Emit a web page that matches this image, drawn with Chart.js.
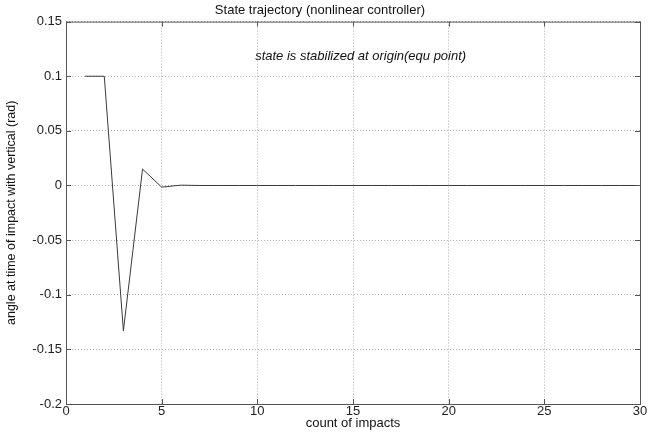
<!DOCTYPE html>
<html>
<head>
<meta charset="utf-8">
<script src="https://cdn.jsdelivr.net/npm/chart.js@4"></script>
<style>
  html, body { margin: 0; padding: 0; background: #fff; }
  #wrap { width: 662px; height: 435px; }
</style>
</head>
<body>
<div id="wrap"><canvas id="myChart"></canvas></div>
<script>
// impact counts and the angle at each impact (rad)
const impacts = [1, 2, 3, 4, 5, 6, 7, 8, 9, 10, 11, 12, 13, 14, 15, 16, 17, 18, 19, 20, 21, 22, 23, 24, 25, 26, 27, 28, 29, 30];
const angles = [0.1, 0.1, -0.133, 0.015, -0.0015, 0.0003, 0, 0, 0, 0, 0, 0, 0, 0, 0, 0, 0, 0, 0, 0, 0, 0, 0, 0, 0, 0, 0, 0, 0, 0];
const xTicks = [0, 5, 10, 15, 20, 25, 30];
const yTicks = [-0.2, -0.15, -0.1, -0.05, 0, 0.05, 0.1, 0.15];
const note = 'state is stabilized at origin(equ point)';

const FONT = '"Liberation Sans", Arial, sans-serif';

// box, inside ticks and the note text
const matlabBox = {
  id: 'matlabBox',
  afterDatasetsDraw(chart) {
    const { ctx, chartArea: a, scales: { x, y } } = chart;
    ctx.save();
    ctx.strokeStyle = '#555';
    ctx.lineWidth = 1;
    ctx.strokeRect(a.left + 0.5, a.top + 0.5, a.right - a.left, a.bottom - a.top);
    ctx.beginPath();
    xTicks.forEach(v => {
      const px = Math.round(x.getPixelForValue(v)) + 0.5;
      ctx.moveTo(px, a.bottom); ctx.lineTo(px, a.bottom - 5);
      ctx.moveTo(px, a.top); ctx.lineTo(px, a.top + 5);
    });
    yTicks.forEach(v => {
      const py = Math.round(y.getPixelForValue(v)) + 0.5;
      ctx.moveTo(a.left, py); ctx.lineTo(a.left + 5, py);
      ctx.moveTo(a.right, py); ctx.lineTo(a.right - 5, py);
    });
    ctx.stroke();
    ctx.fillStyle = '#111';
    ctx.font = 'italic 13px ' + FONT;
    ctx.textAlign = 'center';
    ctx.textBaseline = 'middle';
    ctx.fillText(note, x.getPixelForValue(15.4), y.getPixelForValue(0.1185));
    ctx.restore();
  }
};

let myChart = document.getElementById('myChart').getContext('2d');

let trajectory = new Chart(myChart, {
  type: 'line',
  data: {
    datasets: [{
      label: 'angle',
      data: impacts.map((v, i) => ({ x: v, y: angles[i] })),
      borderColor: '#3a3a3a',
      borderWidth: 1,
      pointRadius: 0,
      tension: 0,
      fill: false
    }]
  },
  options: {
    responsive: true,
    maintainAspectRatio: false,
    animation: false,
    layout: { padding: { left: 0, right: 22, top: 0, bottom: 0 } },
    scales: {
      x: {
        type: 'linear',
        min: 0,
        max: 30,
        afterBuildTicks(scale) { scale.ticks = xTicks.map(v => ({ value: v })); },
        afterFit(scale) { scale.height = 31; },
        grid: { color: '#b0b0b0', lineWidth: 1, drawTicks: false },
        border: { display: false },
        ticks: { color: '#222', font: { family: FONT, size: 13 }, padding: 0, maxRotation: 0 },
        title: { display: true, text: 'count of impacts', color: '#111', font: { family: FONT, size: 13 }, padding: { top: 0, bottom: 4 } }
      },
      y: {
        min: -0.2,
        max: 0.15,
        afterBuildTicks(scale) { scale.ticks = yTicks.map(v => ({ value: v })); },
        afterFit(scale) { scale.width = 66; },
        grid: { color: '#b0b0b0', lineWidth: 1, drawTicks: false },
        border: { display: false },
        ticks: {
          color: '#222',
          font: { family: FONT, size: 13 },
          padding: 4,
          callback: v => String(Math.round(v * 100) / 100)
        },
        title: { display: true, text: 'angle at time of impact with vertical (rad)', color: '#111', font: { family: FONT, size: 12.5 }, padding: { top: 4, bottom: 0 } }
      }
    },
    plugins: {
      legend: { display: false },
      tooltip: { enabled: false },
      title: {
        display: true,
        text: 'State trajectory (nonlinear controller)',
        color: '#111',
        font: { family: FONT, size: 13, weight: 'normal' },
        padding: { top: 3, bottom: 3 }
      }
    }
  },
  plugins: [matlabBox]
});
// dotted grid lines
trajectory.options.scales.x.grid.borderDash = [1, 2];
trajectory.options.scales.y.grid.borderDash = [1, 2];
trajectory.options.scales.x.border.dash = [1, 2];
trajectory.options.scales.y.border.dash = [1, 2];
trajectory.update();
</script>
</body>
</html>
